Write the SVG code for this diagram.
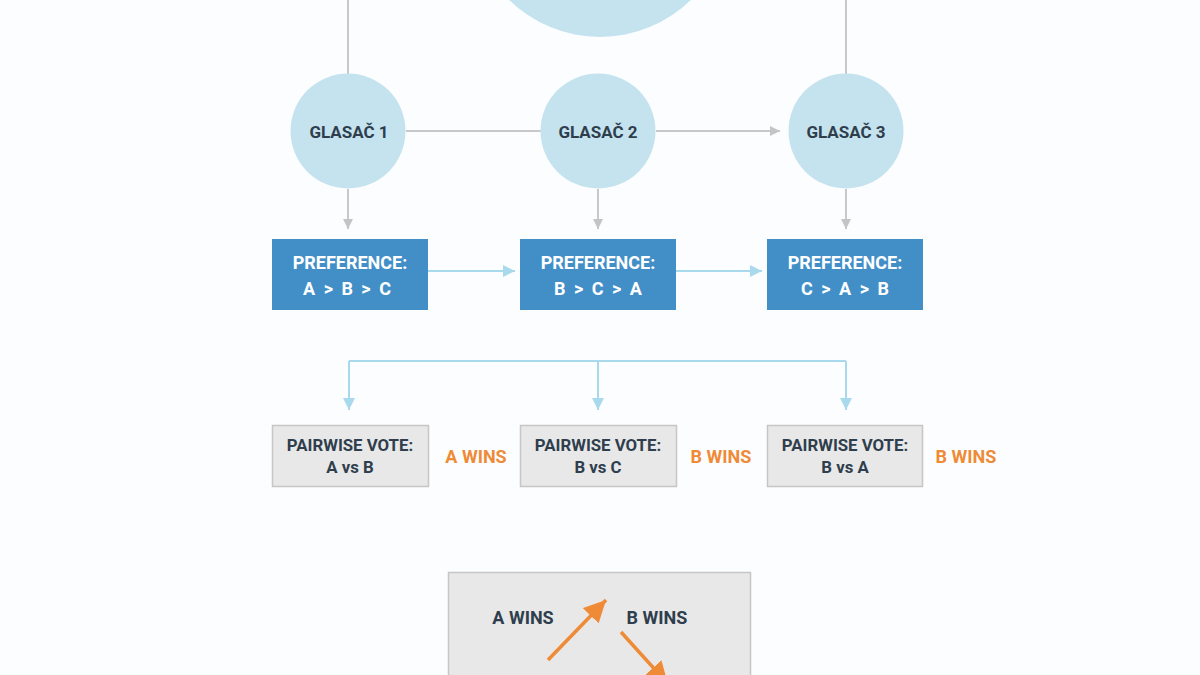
<svg xmlns="http://www.w3.org/2000/svg" width="1200" height="675" viewBox="0 0 1200 675">
<defs>
<marker id="ag" viewBox="0 0 10 10" refX="10" refY="5" markerWidth="10" markerHeight="10" markerUnits="userSpaceOnUse" orient="auto"><path d="M0,0 L10,5 L0,10 z" fill="#c4c4c4"/></marker>
<marker id="ab" viewBox="0 0 10 10" refX="10" refY="5" markerWidth="12" markerHeight="14" markerUnits="userSpaceOnUse" orient="auto"><path d="M0,0 L10,5 L0,10 z" fill="#a9d9ec"/></marker>
<marker id="ao" viewBox="0 0 10 10" refX="10" refY="5" markerWidth="22" markerHeight="22" markerUnits="userSpaceOnUse" orient="auto"><path d="M0,0 L10,5 L0,10 z" fill="#ef8a36"/></marker>
</defs>
<style>
.voter{fill:#c5e3ef}
.vt{font-family:Roboto,"Liberation Sans",sans-serif;font-weight:700;font-size:17px;fill:#2f3e4d;text-anchor:middle}
.pref{fill:#428fc8}
.pt{font-family:Roboto,"Liberation Sans",sans-serif;font-weight:700;font-size:18px;fill:#ffffff;text-anchor:middle}
.ws{word-spacing:4px}
.pw{fill:#e8e8e8;stroke:#c6c6c6;stroke-width:1.5}
.pwt{font-family:Roboto,"Liberation Sans",sans-serif;font-weight:700;font-size:16.8px;fill:#2f3e4d;text-anchor:middle}
.win{font-family:Roboto,"Liberation Sans",sans-serif;font-weight:700;font-size:18px;fill:#ef8a36;text-anchor:middle}
.bw{font-family:Roboto,"Liberation Sans",sans-serif;font-weight:700;font-size:18px;fill:#2f3e4d;text-anchor:middle}
.g{stroke:#c8c8c8;stroke-width:2;fill:none}
.b{stroke:#a9d9ec;stroke-width:2;fill:none}
.o{stroke:#ef8a36;stroke-width:3.5;fill:none}
</style>
<rect width="1200" height="675" fill="#fcfdfe"/>

<g id="connectors">
<path class="g" d="M348,0 V74"/>
<path class="g" d="M846,0 V74"/>
<path class="g" d="M406,131 H541"/>
<path class="g" d="M656,131 H780" marker-end="url(#ag)"/>
<path class="g" d="M348,189 V229" marker-end="url(#ag)"/>
<path class="g" d="M598,189 V229" marker-end="url(#ag)"/>
<path class="g" d="M846,189 V229" marker-end="url(#ag)"/>
<path class="b" d="M428,271 H515" marker-end="url(#ab)"/>
<path class="b" d="M676,271 H762" marker-end="url(#ab)"/>
<path class="b" d="M349,361 H846"/>
<path class="b" d="M349,361 V410" marker-end="url(#ab)"/>
<path class="b" d="M598,361 V410" marker-end="url(#ab)"/>
<path class="b" d="M846,361 V410" marker-end="url(#ab)"/>
</g>

<g id="top-node">
<circle cx="600" cy="-93" r="130" class="voter"/>
</g>

<g id="voter1"><circle cx="348" cy="131" r="57.5" class="voter"/><text x="349" y="138" class="vt">GLASAČ 1</text></g>
<g id="voter2"><circle cx="598" cy="131" r="57.5" class="voter"/><text x="598" y="138" class="vt">GLASAČ 2</text></g>
<g id="voter3"><circle cx="846" cy="131" r="57.5" class="voter"/><text x="846" y="138" class="vt">GLASAČ 3</text></g>

<g id="pref1"><rect x="272" y="239" width="156" height="71" class="pref"/><text x="350" y="269" class="pt">PREFERENCE:</text><text x="347" y="295" class="pt ws">A &gt; B &gt; C</text></g>
<g id="pref2"><rect x="520" y="239" width="156" height="71" class="pref"/><text x="598" y="269" class="pt">PREFERENCE:</text><text x="598" y="295" class="pt ws">B &gt; C &gt; A</text></g>
<g id="pref3"><rect x="767" y="239" width="156" height="71" class="pref"/><text x="845" y="269" class="pt">PREFERENCE:</text><text x="845" y="295" class="pt ws">C &gt; A &gt; B</text></g>

<g id="pair1"><rect x="272.5" y="425.5" width="156" height="61" class="pw"/><text x="350" y="451" class="pwt">PAIRWISE VOTE:</text><text x="350" y="473" class="pwt">A vs B</text></g>
<g id="pair2"><rect x="520.5" y="425.5" width="156" height="61" class="pw"/><text x="598" y="451" class="pwt">PAIRWISE VOTE:</text><text x="598" y="473" class="pwt">B vs C</text></g>
<g id="pair3"><rect x="767.5" y="425.5" width="155" height="61" class="pw"/><text x="845" y="451" class="pwt">PAIRWISE VOTE:</text><text x="845" y="473" class="pwt">B vs A</text></g>

<g id="win1"><text x="476" y="463" class="win">A WINS</text></g>
<g id="win2"><text x="721" y="463" class="win">B WINS</text></g>
<g id="win3"><text x="966" y="463" class="win">B WINS</text></g>

<g id="cycle">
<rect x="448.5" y="572.5" width="302" height="110" class="pw" fill="#ececec"/>
<text x="523" y="624" class="bw">A WINS</text>
<text x="657" y="624" class="bw">B WINS</text>
<path class="o" d="M548,660 L606,600" marker-end="url(#ao)"/>
<path class="o" d="M621,632 L668,684" marker-end="url(#ao)"/>
</g>
</svg>
